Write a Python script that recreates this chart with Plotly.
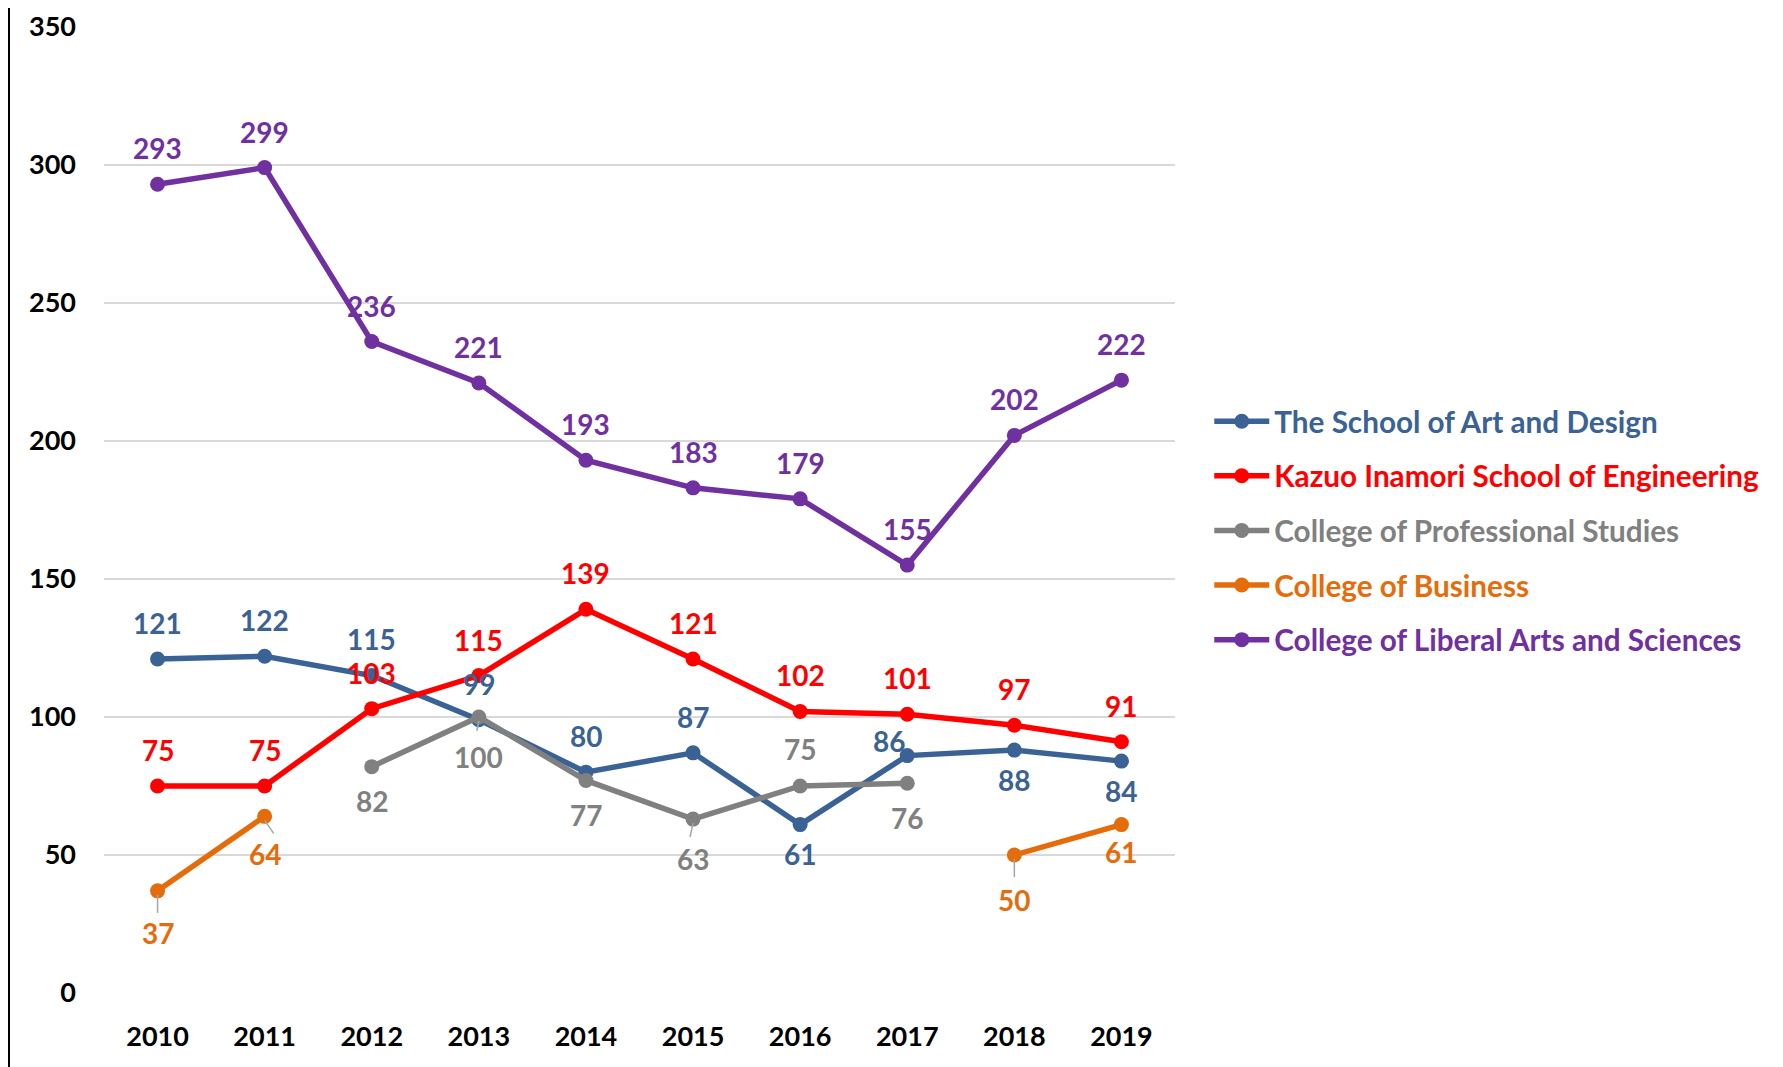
import plotly.graph_objects as go

years = ["2010", "2011", "2012", "2013", "2014", "2015", "2016", "2017", "2018", "2019"]
art_design = [121, 122, 115, 99, 80, 87, 61, 86, 88, 84]
engineering = [75, 75, 103, 115, 139, 121, 102, 101, 97, 91]
professional = [None, None, 82, 100, 77, 63, 75, 76, None, None]
business = [37, 64, None, None, None, None, None, None, 50, 61]
liberal_arts = [293, 299, 236, 221, 193, 183, 179, 155, 202, 222]

names = ["The School of Art and Design", "Kazuo Inamori School of Engineering",
         "College of Professional Studies", "College of Business",
         "College of Liberal Arts and Sciences"]
colors = ["#3A6294", "#FF0000", "#808080", "#E46C0A", "#7030A0"]
series = [art_design, engineering, professional, business, liberal_arts]

# label placement (pixel offsets of the label centre from the point: dy, dx)
label_dy = [
    [36, 36, 37, 36, 36, 36, -29, 15, -30, -30],
    [36] * 10,
    [0, 0, -34, -40, -35, -40, 37, -35, 0, 0],
    [-42, -38, 0, 0, 0, 0, 0, 0, -45, -27],
    [36] * 10,
]
label_dx = [
    [0, 0, 0, 0, 0, 0, 0, -18, 0, 0],
    [0] * 10, [0] * 10, [0] * 10, [0] * 10,
]
# leader lines for moved labels: (series, point, dx px, dy px downward)
leaders = [(3, 0, 0, 18), (3, 1, 9, 13), (3, 8, 0, 18), (2, 3, -2, 10), (2, 5, -3, 14)]

FONT = "Lato"
# page body has an 8px margin: shrink figure so the drawing lands where the reference is
W, H = 1775, 1059
ML, MR, MT, MB = 96, 608, 18, 74
PW = W - ML - MR

fig = go.Figure()
annotations = []
for name, color, vals, dys, dxs in zip(names, colors, series, label_dy, label_dx):
    fig.add_trace(go.Scatter(
        x=years, y=vals, mode="lines+markers",
        name=f"<span style='color:{color}'><b>{name}</b></span>",
        legendgroup=name,
        line=dict(color=color, width=5.5),
        marker=dict(color=color, size=15),
        connectgaps=False,
        cliponaxis=False,
    ))
    for i, (v, dy, dx) in enumerate(zip(vals, dys, dxs)):
        if v is None:
            continue
        annotations.append(dict(
            x=i, y=v, xref="x", yref="y", text=f"<b>{v}</b>", showarrow=False,
            xanchor="center", yanchor="middle", yshift=dy, xshift=dx,
            font=dict(family=FONT, size=28, color=color),
        ))

for s, i, dx, dy in leaders:
    fig.add_shape(type="line", xref="x", yref="y",
                  xsizemode="pixel", ysizemode="pixel",
                  xanchor=i, yanchor=series[s][i],
                  x0=0, x1=dx, y0=-4, y1=-4 - dy,
                  line=dict(color="#A6A6A6", width=1.5), layer="above")

fig.update_layout(
    width=W, height=H,
    margin=dict(l=ML, r=MR, t=MT, b=MB, autoexpand=False),
    paper_bgcolor="white", plot_bgcolor="white",
    font=dict(family=FONT, size=27, color="black"),
    showlegend=True,
    annotations=annotations,
    legend=dict(x=1.032, y=0.618, xanchor="left", yanchor="top",
                font=dict(family=FONT, size=29.7),
                traceorder="grouped", tracegroupgap=13,
                itemwidth=55, bgcolor="rgba(0,0,0,0)"),
)
fig.update_xaxes(type="category", range=[-0.5, 9.5], showgrid=False, showline=False,
                 zeroline=False, automargin=False,
                 tickfont=dict(family=FONT, size=27, color="black", weight="bold"),
                 ticklabelstandoff=25)
fig.update_yaxes(range=[0, 350.3], dtick=50, showgrid=True, gridcolor="#D9D9D9", gridwidth=1.5,
                 zeroline=False, showline=False, automargin=False,
                 tickfont=dict(family=FONT, size=27, color="black", weight="bold"),
                 ticklabelstandoff=27)
fig.add_shape(type="line", xref="paper", yref="paper",
              x0=(1 - ML) / PW, x1=(1 - ML) / PW, y0=-0.1, y1=1.05,
              line=dict(color="black", width=2))

fig.write_html("out.html")
